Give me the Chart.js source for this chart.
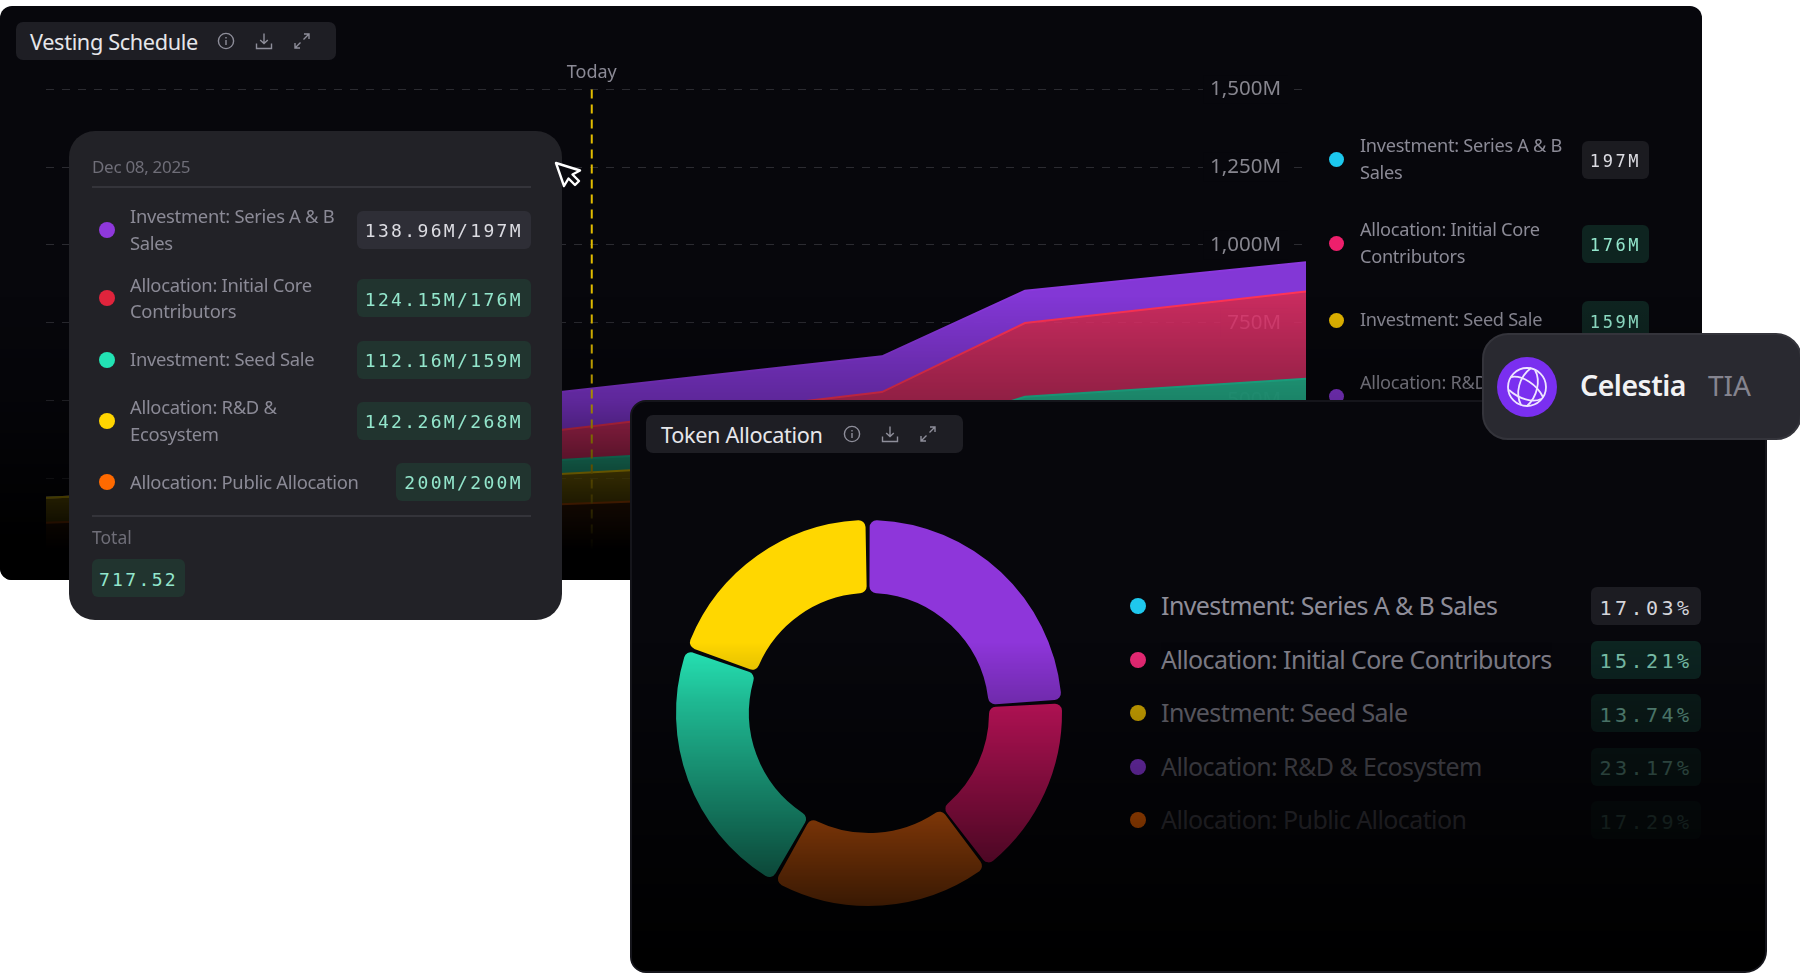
<!DOCTYPE html>
<html>
<head>
<meta charset="utf-8">
<title>Celestia vesting</title>
<script src="https://cdn.jsdelivr.net/npm/chart.js@4/dist/chart.umd.min.js"></script>
<style>
  html, body { margin: 0; padding: 0; background: #fff; }
  body { width: 1800px; height: 973px; position: relative; overflow: hidden; font-family: "Noto Sans", sans-serif; }
  .panel { position: absolute; background: #07070c; overflow: hidden; box-sizing: border-box; }
  #vestingPanel { left: 0; top: 6px; width: 1702px; height: 574px; border-radius: 12px; }
  #tokenPanel { left: 630px; top: 400px; width: 1137px; height: 573px; border-radius: 16px 16px 22px 16px; border: 2px solid #15151b; }
  #vestingPanel .fade { position: absolute; inset: 0; pointer-events: none;
    background: linear-gradient(to bottom, rgba(0,0,0,0) 290px, rgba(0,0,0,.28) 394px, rgba(0,0,0,.6) 464px, #000 544px); }
  #tokenPanel .fade { position: absolute; inset: 0; pointer-events: none;
    background: linear-gradient(to bottom, rgba(0,0,0,0) 240px, rgba(0,0,0,.2) 298px, rgba(0,0,0,.56) 428px, rgba(0,0,0,.76) 498px, #000 571px); }
  .head { position: absolute; height: 38px; background: #1e1e24; border-radius: 7px; color: #e6e6ea; display: flex; align-items: center; box-sizing: border-box; }
  .head span { white-space: nowrap; }
  .head svg { position: absolute; top: 10px; width: 18px; height: 18px; fill: none; stroke: #8e8e9a; stroke-width: 1.4; }
  #vestingHead { left: 16px; top: 16px; width: 320px; padding-left: 14px; font-size: 21.7px; letter-spacing: -.35px; }
  #tokenHead { left: 14px; top: 13px; width: 317px; padding-left: 15px; font-size: 21.7px; letter-spacing: -.35px; }
  canvas { position: absolute; }
  #vestingChart { left: 0; top: 0; width: 1330px; height: 574px; }
  #tokenChart { left: 17px; top: 91px; width: 440px; height: 440px; }
  .mono { font-family: "DejaVu Sans Mono", monospace; }
  .dot { border-radius: 50%; flex: none; }
  .chip { background: #21342f; color: #93e6cc; border-radius: 6px; display: flex; align-items: center; justify-content: center; flex: none; box-sizing: border-box; white-space: nowrap; padding-top: 3px; }
  .chip.grey { background: #2e2e36; color: #dcdce2; }

  #sideLegend { position: absolute; left: 1329px; top: 127px; width: 320px; display: flex; flex-direction: column; gap: 31px; }
  #sideLegend .row { display: flex; align-items: center; min-height: 38px; color: #8b8a96; font-size: 18.2px; line-height: 26.6px; letter-spacing: -.3px; }
  #sideLegend .dot { width: 15px; height: 15px; margin-right: 16px; }
  #sideLegend .txt { flex: 1; padding-right: 8px; transform: translateY(-1px); }
  #sideLegend .chip { width: 67px; height: 38px; font-size: 17px; letter-spacing: 2.6px; background: #0e2420; }
  #sideLegend .chip.grey { background: #1b1b20; }

  #tip { position: absolute; left: 69px; top: 131px; width: 493px; height: 489px; background: #222227; border-radius: 26px; color: #8b8a96; box-sizing: border-box; }
  #tip .date { position: absolute; left: 23px; top: 23px; font-size: 17px; line-height: 25px; color: #6f6e78; letter-spacing: -.3px; }
  #tip .rule { position: absolute; left: 23px; width: 439px; height: 2px; background: #34343a; }
  #tipRows { position: absolute; left: 30px; top: 72px; width: 432px; display: flex; flex-direction: column; gap: 15.6px; }
  #tipRows .row { display: flex; align-items: center; min-height: 38px; font-size: 18.4px; line-height: 26.6px; letter-spacing: -.3px; }
  #tipRows .dot { width: 16px; height: 16px; margin-right: 15px; }
  #tipRows .txt { flex: 1; padding-right: 12px; }
  #tipRows .chip { height: 38px; padding: 3px 8px 0; font-size: 18px; letter-spacing: 2.35px; }
  #tip .total { position: absolute; left: 23px; top: 394px; font-size: 17.5px; line-height: 24px; color: #6f6e78; }
  #tip .sum { position: absolute; left: 23px; top: 428px; width: 93px; height: 38px; font-size: 18px; letter-spacing: 2.35px; }

  #allocLegend { position: absolute; left: 498px; top: 185px; width: 571px; display: flex; flex-direction: column; gap: 15.5px; }
  #allocLegend .row { display: flex; align-items: center; height: 38px; color: #8e8d99; font-size: 25px; letter-spacing: -.6px; white-space: nowrap; }
  #allocLegend .dot { width: 16px; height: 16px; margin-right: 15px; }
  #allocLegend .txt { flex: 1; transform: translateY(-1px); }
  #allocLegend .chip { width: 110px; height: 38px; font-size: 20px; letter-spacing: 3.5px; background: #0f2b26; }
  #allocLegend .chip.grey { background: #1c1c22; color: #d4d4da; }
  #allocLegend .row:nth-child(2) .txt { opacity: .92; }
  #allocLegend .row:nth-child(3) .txt { opacity: .78; }
  #allocLegend .row:nth-child(4) .txt { opacity: .6; }
  #allocLegend .row:nth-child(5) .txt { opacity: .4; }
  #allocLegend .row:nth-child(2) .chip { opacity: .85; }
  #allocLegend .row:nth-child(3) .chip { opacity: .65; }
  #allocLegend .row:nth-child(4) .chip { opacity: .45; }
  #allocLegend .row:nth-child(5) .chip { opacity: .25; }

  #cursor { position: absolute; left: 553px; top: 160px; width: 30px; height: 30px; }
  #coin { position: absolute; left: 1482px; top: 333px; width: 320px; height: 107px; background: #292930; border: 2px solid #34343b; border-radius: 26px; box-sizing: border-box; }
  #coin svg { position: absolute; left: 13px; top: 22px; width: 60px; height: 60px; }
  #coin .name { position: absolute; left: 96px; top: 29px; font-size: 28.5px; line-height: 42px; font-weight: 600; color: #f2f2f4; letter-spacing: -.5px; }
  #coin .sym { position: absolute; left: 224px; top: 29px; font-size: 28px; line-height: 42px; color: #85848f; }
</style>
</head>
<body>

<div class="panel" id="vestingPanel">
  <canvas id="vestingChart" width="1330" height="574"></canvas>
  <div id="sideLegend"></div>
  <div class="fade"></div>
  <div class="head" id="vestingHead"><span>Vesting Schedule</span></div>
</div>

<div id="tip">
  <div class="date" id="tipDate"></div>
  <div class="rule" style="top:55px"></div>
  <div id="tipRows"></div>
  <div class="rule" style="top:384px"></div>
  <div class="total">Total</div>
  <div class="sum chip mono" id="tipSum"></div>
</div>

<svg id="cursor" viewBox="0 0 30 30"><path d="M3 3 L11 26 L15.5 18.5 L22 25 L26 21 L19.5 14.5 L27 10.5 Z" fill="#0a0a0f" stroke="#fff" stroke-width="2.4" stroke-linejoin="round"/></svg>

<div class="panel" id="tokenPanel">
  <canvas id="tokenChart" width="440" height="440"></canvas>
  <div id="allocLegend"></div>
  <div class="fade"></div>
  <div class="head" id="tokenHead"><span>Token Allocation</span></div>
</div>

<div id="coin">
  <svg viewBox="0 0 60 60">
    <circle cx="30" cy="30" r="30" fill="#7a2ff0"/>
    <g fill="none" stroke="#efe6ff" stroke-width="1.8">
      <circle cx="30" cy="30" r="19"/>
      <path d="M14 20 C26 18 40 28 46 40"/>
      <path d="M12 33 C22 42 36 46 44 42"/>
      <path d="M34 11 C22 20 18 36 24 48"/>
      <path d="M38 13 C44 24 40 40 30 49"/>
    </g>
  </svg>
  <div class="name">Celestia</div>
  <div class="sym">TIA</div>
</div>

<script>
// Datos del calendario de vesting (dias desde el inicio, en millones)
const vestDays = [0, 364, 365, 727, 1181, 1383, 1780];
const publicAlloc = [107, 136, 136, 166, 205, 228, 277];
const rndEco = [80, 89, 89, 98, 114, 152, 163];
const seedSale = [0, 0, 37, 45, 49, 132, 130];
const coreContrib = [0, 0, 44, 96, 159, 237, 280];
const seriesAB = [0, 0, 129, 122, 115, 104, 94];
const todayDay = 771;
const tickValues = [0, 250, 500, 750, 1000, 1250, 1500];

const sideNames = ["Investment: Series A & B Sales", "Allocation: Initial Core Contributors", "Investment: Seed Sale", "Allocation: R&D & Ecosystem"];
const sideTotals = ["197M", "176M", "159M", "268M"];
const sideDots = ["#1cc8ee", "#ee1f6c", "#e6b800", "#8a38dc"];

const tipDate = "Dec 08, 2025";
const tipNames = ["Investment: Series A & B Sales", "Allocation: Initial Core Contributors", "Investment: Seed Sale", "Allocation: R&D & Ecosystem", "Allocation: Public Allocation"];
const tipValues = ["138.96M/197M", "124.15M/176M", "112.16M/159M", "142.26M/268M", "200M/200M"];
const tipDots = ["#8f38dc", "#e0243c", "#22e3b4", "#ffd500", "#ff6a00"];
const tipTotal = "717.52";

const allocNames = ["Investment: Series A & B Sales", "Allocation: Initial Core Contributors", "Investment: Seed Sale", "Allocation: R&D & Ecosystem", "Allocation: Public Allocation"];
const allocShown = ["17.03%", "15.21%", "13.74%", "23.17%", "17.29%"];
const allocDots = ["#1fc8ee", "#ee2a78", "#e6b800", "#8a38dc", "#ff6a00"];

// Porciones del donut
const sliceShares = [24.2, 15.5, 18.6, 22.2, 19.4];
const sliceColors = ["#8e36da", "#dc1668", "#ff6f10", "#27e8b8", "#ffd700"];

const infoIcon = '<svg viewBox="0 0 18 18" style="left:LEFTpx"><circle cx="9" cy="9" r="7.6"/><path d="M9 8v5M9 5v1.4"/></svg>';
const saveIcon = '<svg viewBox="0 0 18 18" style="left:LEFTpx"><path d="M9 1.5v10M5.2 8 9 11.6 12.8 8M1.5 11.5v5h15v-5"/></svg>';
const growIcon = '<svg viewBox="0 0 18 18" style="left:LEFTpx"><path d="M10.5 7.5 16 2M11 2h5v5M7.5 10.5 2 16M2 11v5h5"/></svg>';

function addIcons(id, lefts) {
    const head = document.getElementById(id);
    head.insertAdjacentHTML("beforeend", infoIcon.replace("LEFT", lefts[0]) + saveIcon.replace("LEFT", lefts[1]) + growIcon.replace("LEFT", lefts[2]));
}
addIcons("vestingHead", [201, 239, 277]);
addIcons("tokenHead", [197, 235, 273]);

function addRows(id, names, values, dots, firstGrey) {
    const box = document.getElementById(id);
    names.forEach((name, i) => {
        const row = document.createElement("div");
        row.className = "row";
        const dot = document.createElement("div");
        dot.className = "dot";
        dot.style.background = dots[i];
        const txt = document.createElement("div");
        txt.className = "txt";
        txt.textContent = name;
        const chip = document.createElement("div");
        chip.className = "chip mono" + (i === 0 && firstGrey ? " grey" : "");
        chip.textContent = values[i];
        row.append(dot, txt, chip);
        box.appendChild(row);
    });
}
addRows("sideLegend", sideNames, sideTotals, sideDots, true);
addRows("tipRows", tipNames, tipValues, tipDots, true);
addRows("allocLegend", allocNames, allocShown, allocDots, true);
document.getElementById("tipDate").textContent = tipDate;
document.getElementById("tipSum").textContent = tipTotal;

function points(values) {
    return values.map((v, i) => ({ x: vestDays[i], y: v }));
}

function areaSet(label, values, line, fill, first) {
    return {
        label: label,
        data: points(values),
        borderColor: line,
        backgroundColor: fill,
        borderWidth: 2,
        pointRadius: 0,
        tension: 0,
        fill: first ? "origin" : "-1"
    };
}

// Linea punteada de "Today"
const todayLine = {
    id: "todayLine",
    afterDatasetsDraw(chart) {
        const { ctx, chartArea, scales } = chart;
        const x = scales.x.getPixelForValue(todayDay);
        ctx.save();
        ctx.strokeStyle = "#e3bd00";
        ctx.lineWidth = 2;
        ctx.setLineDash([9, 6]);
        ctx.beginPath();
        ctx.moveTo(x, chartArea.top);
        ctx.lineTo(x, chartArea.bottom);
        ctx.stroke();
        ctx.setLineDash([]);
        ctx.fillStyle = "#8b8a96";
        ctx.font = '18px "Noto Sans"';
        ctx.textAlign = "center";
        ctx.textBaseline = "middle";
        ctx.fillText("Today", x, chartArea.top - 17);
        ctx.restore();
    }
};

new Chart(document.getElementById("vestingChart"), {
    type: "line",
    data: {
        datasets: [
            areaSet("Allocation: Public Allocation", publicAlloc, "#ff6a00", "rgba(255,106,0,0.28)", true),
            areaSet("Allocation: R&D & Ecosystem", rndEco, "#ffd500", "rgba(255,213,0,0.5)"),
            areaSet("Investment: Seed Sale", seedSale, "#22c99e", "rgba(40,190,150,0.96)"),
            areaSet("Allocation: Initial Core Contributors", coreContrib, "#ff3355", "rgba(235,50,110,0.85)"),
            areaSet("Investment: Series A & B Sales", seriesAB, "#8a38dc", "rgba(134,56,218,0.98)")
        ]
    },
    options: {
        responsive: false,
        animation: false,
        layout: { padding: { left: 46, right: 24, top: 83.4, bottom: 24 } },
        plugins: { legend: { display: false }, tooltip: { enabled: false } },
        scales: {
            x: { type: "linear", min: 0, max: 1780, display: false },
            y: {
                position: "right",
                stacked: true,
                min: 0,
                max: 1500,
                afterFit: (s) => { s.width = 0; },
                afterBuildTicks: (s) => { s.ticks = tickValues.map((v) => ({ value: v })); },
                border: { display: false, dash: [8, 8] },
                grid: { color: "#2b2b31", drawTicks: false, lineWidth: 1 },
                ticks: {
                    mirror: true,
                    padding: -25,
                    color: "#87868f",
                    font: { family: "Noto Sans", size: 20.5 },
                    showLabelBackdrop: true,
                    backdropColor: "#07070c",
                    backdropPadding: { left: 7, right: 7, top: 2, bottom: 2 },
                    callback: (v) => v.toLocaleString("en-US") + "M"
                }
            }
        }
    },
    plugins: [todayLine]
});

new Chart(document.getElementById("tokenChart"), {
    type: "doughnut",
    data: {
        labels: ["Allocation: R&D & Ecosystem", "Allocation: Initial Core Contributors", "Allocation: Public Allocation", "Investment: Series A & B Sales", "Investment: Seed Sale"],
        datasets: [{
            data: sliceShares,
            backgroundColor: sliceColors,
            borderWidth: 0,
            spacing: 5,
            borderRadius: 7
        }]
    },
    options: {
        responsive: false,
        animation: false,
        rotation: -0.5,
        radius: 190.5,
        cutout: "61.7%",
        plugins: { legend: { display: false }, tooltip: { enabled: false } }
    }
});
</script>
</body>
</html>
